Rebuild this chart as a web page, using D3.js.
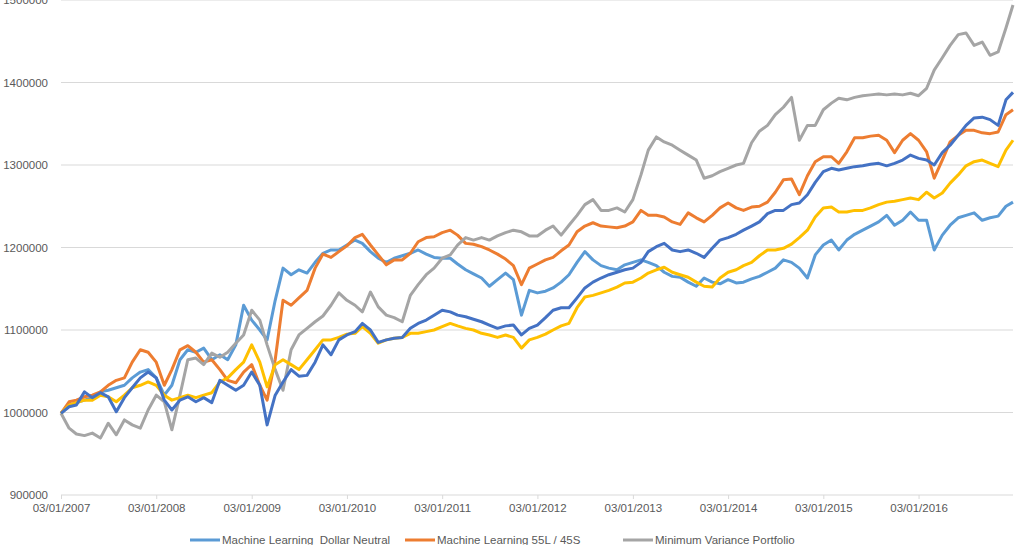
<!DOCTYPE html>
<html lang="en">
<head>
<meta charset="utf-8">
<title>Portfolio value 2007-2016</title>
<script src="https://cdn.jsdelivr.net/npm/d3@7"></script>
<style>
  body { margin: 0; background: #fff; }
  text { font-family: "Liberation Sans", Arial, sans-serif; fill: #595959; }
</style>
</head>
<body>
<script>
// monthly observations, Jan 2007 .. Dec 2016 (121 points), values in thousands
var startDate = new Date(2007, 0, 3);
var endDate = new Date(2016, 11, 30);

var dollarNeutral = [
  999,1009,1012,1015,1018,1025,1027,1030,1033,1042,1049,1052,
  1042,1021,1033,1064,1076,1073,1078,1064,1070,1064,1082,1130,
  1112,1100,1088,1136,1175,1167,1173,1169,1182,1193,1197,1197,
  1203,1209,1205,1195,1187,1182,1187,1190,1193,1197,1192,1188,
  1187,1187,1180,1173,1168,1163,1153,1161,1169,1161,1118,1148,
  1145,1147,1151,1158,1167,1182,1195,1185,1178,1175,1173,1179,
  1182,1185,1182,1178,1170,1165,1164,1158,1153,1163,1158,1156,
  1161,1157,1158,1162,1165,1170,1175,1185,1182,1175,1163,1191,
  1203,1209,1197,1209,1216,1221,1226,1231,1239,1227,1233,1243,
  1233,1233,1197,1215,1227,1236,1239,1242,1233,1236,1238,1250,
  1255
];

var ml55_45 = [
  999,1013,1015,1019,1021,1025,1033,1039,1042,1061,1076,1073,
  1061,1033,1052,1076,1081,1073,1061,1064,1052,1039,1036,1049,
  1058,1033,1015,1064,1136,1130,1139,1148,1175,1192,1188,1195,
  1202,1212,1216,1203,1191,1179,1185,1185,1193,1207,1212,1213,
  1218,1221,1215,1205,1204,1201,1197,1192,1186,1178,1155,1175,
  1180,1185,1188,1196,1203,1219,1226,1230,1226,1225,1224,1226,
  1231,1245,1239,1239,1237,1231,1228,1242,1236,1231,1239,1248,
  1254,1248,1245,1249,1250,1255,1267,1282,1283,1264,1287,1304,
  1310,1310,1302,1316,1333,1333,1335,1336,1330,1315,1330,1338,
  1330,1316,1284,1306,1328,1336,1342,1342,1339,1338,1340,1361,
  1367
];

var minVariance = [
  999,981,974,972,975,969,987,973,991,985,981,1003,
  1021,1013,979,1021,1064,1066,1058,1072,1067,1073,1084,1094,
  1124,1112,1082,1052,1027,1076,1094,1102,1110,1117,1130,1145,
  1136,1130,1122,1146,1128,1118,1115,1110,1142,1155,1167,1175,
  1187,1191,1203,1212,1209,1212,1209,1214,1218,1221,1219,1214,
  1214,1221,1226,1215,1227,1239,1252,1258,1245,1245,1248,1243,
  1258,1288,1318,1334,1328,1324,1318,1312,1306,1284,1287,1292,
  1296,1300,1302,1327,1341,1348,1361,1370,1382,1330,1348,1348,
  1367,1375,1381,1379,1382,1384,1385,1386,1385,1386,1385,1387,
  1384,1393,1415,1430,1445,1458,1460,1445,1449,1433,1437,1466,
  1494
];

var yellowSeries = [
  999,1009,1012,1015,1015,1021,1019,1013,1021,1030,1033,1037,
  1033,1021,1015,1018,1021,1018,1021,1024,1037,1042,1052,1061,
  1082,1061,1031,1058,1064,1058,1052,1064,1076,1088,1088,1091,
  1095,1096,1104,1096,1084,1088,1090,1091,1096,1096,1098,1100,
  1104,1108,1105,1102,1100,1096,1094,1091,1094,1091,1078,1088,
  1091,1095,1100,1105,1108,1127,1140,1142,1145,1148,1152,1157,
  1158,1163,1169,1173,1176,1170,1167,1164,1158,1153,1152,1163,
  1170,1173,1178,1182,1190,1197,1197,1199,1204,1212,1221,1237,
  1248,1249,1243,1243,1245,1245,1248,1252,1255,1256,1258,1260,
  1258,1267,1260,1266,1278,1288,1299,1304,1306,1302,1298,1318,
  1330
];

var darkBlueSeries = [
  999,1007,1009,1025,1018,1024,1019,1001,1018,1030,1042,1049,
  1042,1015,1003,1015,1019,1013,1018,1012,1039,1033,1027,1033,
  1049,1033,985,1021,1037,1052,1044,1045,1061,1082,1070,1088,
  1094,1098,1108,1100,1085,1088,1090,1091,1102,1108,1112,1118,
  1124,1122,1118,1116,1113,1110,1106,1102,1105,1106,1094,1102,
  1106,1115,1124,1127,1127,1139,1151,1158,1163,1167,1170,1173,
  1175,1182,1195,1201,1205,1197,1195,1197,1193,1188,1199,1209,
  1212,1216,1221,1226,1231,1241,1245,1245,1252,1254,1264,1279,
  1292,1296,1294,1296,1298,1299,1301,1302,1299,1302,1306,1312,
  1308,1306,1300,1315,1324,1336,1348,1357,1358,1355,1348,1379,
  1388
];

var yTicks = [900000,1000000,1100000,1200000,1300000,1400000,1500000];
var tickYears = [2007,2008,2009,2010,2011,2012,2013,2014,2015,2016];

var series = [
  { name: "Machine Learning  Dollar Neutral", values: dollarNeutral, color: "#5B9BD5" },
  { name: "Machine Learning 55L / 45S", values: ml55_45, color: "#ED7D31" },
  { name: "Minimum Variance Portfolio", values: minVariance, color: "#A5A5A5" },
  { name: "", values: yellowSeries, color: "#FFC000" },
  { name: "", values: darkBlueSeries, color: "#4472C4" }
];

// one date per observation: the 3rd of each month, last one at the end date
function dateAt(i, n) {
  if (i === n - 1) return endDate;
  return new Date(2007, i, 3);
}

var w = 1026, h = 545;
var svg = d3.select("body").append("svg").attr("width", w).attr("height", h);

var x = d3.scaleTime().domain([startDate, endDate]).range([61, 1013]);
var y = d3.scaleLinear().domain([900000, 1500000]).range([495, 0]);

// gridlines
svg.append("g")
  .selectAll("line")
  .data(yTicks)
  .enter()
  .append("line")
  .attr("x1", 61).attr("x2", 1013)
  .attr("y1", function(d) { return y(d); })
  .attr("y2", function(d) { return y(d); })
  .attr("stroke", "#D9D9D9")
  .attr("stroke-width", 1);

// y labels
svg.append("g")
  .selectAll("text")
  .data(yTicks)
  .enter()
  .append("text")
  .attr("x", 48)
  .attr("y", function(d) { return y(d) + 4; })
  .attr("text-anchor", "end")
  .attr("font-size", "11.5px")
  .text(function(d) { return d; });

// x axis ticks + labels
var xTickDates = tickYears.map(function(yr) { return new Date(yr, 0, 3); });
var xAxis = d3.axisBottom(x)
  .tickValues(xTickDates)
  .tickSize(4)
  .tickFormat(d3.timeFormat("%d/%m/%Y"));

var gx = svg.append("g").attr("transform", "translate(0,495)").call(xAxis);
gx.select(".domain").remove();
gx.selectAll("line").attr("stroke", "#D9D9D9");
gx.selectAll("text")
  .attr("font-size", "11.5px")
  .attr("font-family", "Liberation Sans, Arial, sans-serif")
  .attr("fill", "#595959")
  .attr("dy", "0.85em");

// lines
var line = d3.line()
  .x(function(d, i, arr) { return x(dateAt(i, arr.length)); })
  .y(function(d) { return y(d * 1000); });

svg.append("g")
  .selectAll("path")
  .data(series)
  .enter()
  .append("path")
  .attr("d", function(s) { return line(s.values); })
  .attr("fill", "none")
  .attr("stroke", function(s) { return s.color; })
  .attr("stroke-width", 3)
  .attr("stroke-linejoin", "round");

// legend (only the first row fits in the frame)
var legendX = [190, 405, 623];
var leg = svg.append("g")
  .selectAll("g")
  .data(series.slice(0, 3))
  .enter()
  .append("g")
  .attr("transform", function(d, i) { return "translate(" + legendX[i] + ",540)"; });

leg.append("line")
  .attr("x1", 0).attr("x2", 30)
  .attr("y1", 0).attr("y2", 0)
  .attr("stroke", function(d) { return d.color; })
  .attr("stroke-width", 3);

leg.append("text")
  .attr("x", 32)
  .attr("y", 4)
  .attr("font-size", "11.5px")
  .style("white-space", "pre")
  .text(function(d) { return d.name; });
</script>
</body>
</html>
